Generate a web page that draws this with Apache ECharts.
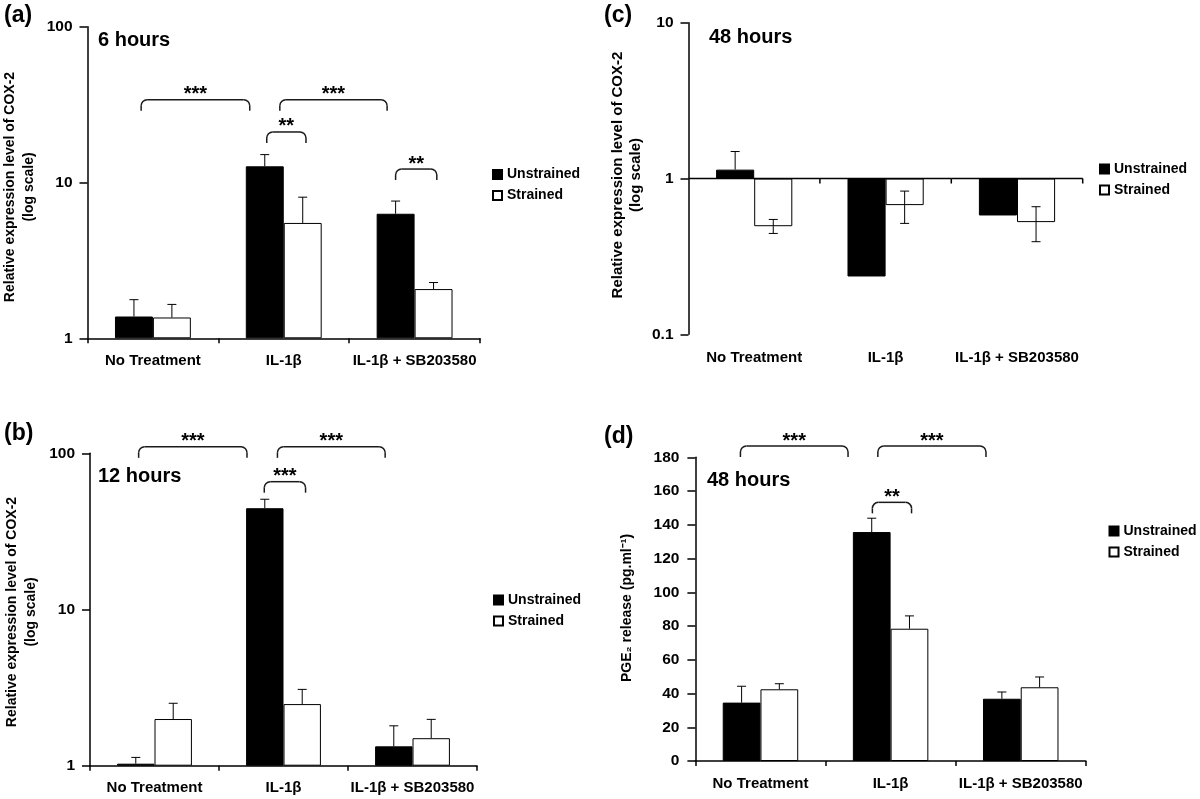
<!DOCTYPE html>
<html>
<head>
<meta charset="utf-8">
<script src="https://cdn.jsdelivr.net/npm/echarts@6/dist/echarts.min.js"></script>
<style>
html,body{margin:0;padding:0;background:#fff;}
#chart{width:1200px;height:799px;}
</style>
</head>
<body>
<div id="chart"></div>
<script>
// ---------- DATA ----------
const categories = ['No Treatment', 'IL-1β', 'IL-1β + SB203580'];
const seriesNames = ['Unstrained', 'Strained'];

// (a) COX-2, 6 hours (log scale)
const a_unstrained = [1.38, 12.7, 6.3];
const a_strained = [1.36, 5.5, 2.07];
const a_unstrainedErrHigh = [1.77, 15.1, 7.6];
const a_strainedErrHigh = [1.65, 8.05, 2.28];

// (b) COX-2, 12 hours (log scale)
const b_unstrained = [1.03, 44.5, 1.33];
const b_strained = [1.99, 2.48, 1.50];
const b_unstrainedErrHigh = [1.13, 50.8, 1.80];
const b_strainedErrHigh = [2.51, 3.08, 1.98];

// (c) COX-2, 48 hours (log scale)
const c_unstrained = [1.14, 0.235, 0.579];
const c_strained = [0.494, 0.675, 0.525];
const c_unstrainedErrHigh = [1.49, null, null];
const c_unstrainedErrLow = [null, null, null];
const c_strainedErrHigh = [0.546, 0.83, 0.659];
const c_strainedErrLow = [0.444, 0.515, 0.393];

// (d) PGE2 release, 48 hours
const d_unstrained = [34.6, 135.7, 36.9];
const d_strained = [42.5, 78.4, 43.7];
const d_unstrainedErrHigh = [44.3, 143.9, 40.9];
const d_strainedErrHigh = [45.8, 86.0, 49.8];

// significance annotations: [fromCategory, fromShift, toCategory, toShift, level, stars]
const a_brackets = [[0, -0.09, 1, -0.26, 34, '***'], [1, -0.03, 2, -0.21, 34, '***'], [1, -0.13, 1, 0.17, 21.1, '**'], [2, -0.145, 2, 0.17, 12.2, '**']];
const b_brackets = [[0, -0.123, 1, -0.283, 110, '***'], [1, -0.047, 2, -0.212, 110, '***'], [1, -0.149, 1, 0.171, 65.8, '***']];
const d_brackets = [[0, -0.154, 1, -0.327, 186.7, '***'], [1, -0.098, 2, -0.267, 186.7, '***'], [1, -0.14, 1, 0.161, 153.3, '**']];

// ---------- STYLE ----------
const FONT = '"Liberation Sans", Arial, Helvetica, sans-serif';
const CAT_GAP = 0.42;

const chart = echarts.init(document.getElementById('chart'), null, {renderer: 'canvas'});

const grids = [
  {left: 87.5, top: 26.7, width: 392.5, height: 311.6},   // a
  {left: 90, top: 453.3, width: 387, height: 312.4},      // b
  {left: 688.5, top: 22.7, width: 394.2, height: 311.6},  // c
  {left: 695.4, top: 457.3, width: 390.4, height: 303.7}  // d
].map(g => Object.assign({outerBoundsMode: 'none', containLabel: false}, g));

function xAxisFor(gi, showLine, margin) {
  return {
    type: 'category', gridIndex: gi, data: categories,
    axisLine: {show: showLine, lineStyle: {color: '#000', width: 1.5}},
    axisTick: {show: showLine, alignWithLabel: false, interval: 0, length: 5, lineStyle: {color: '#000', width: 1.5}},
    axisLabel: {show: true, interval: 0, margin: margin, color: '#000', fontFamily: FONT, fontWeight: 'bold', fontSize: 15},
    splitLine: {show: false}
  };
}
function yAxisFor(gi, extra, margin) {
  return Object.assign({
    gridIndex: gi,
    axisLine: {show: true, lineStyle: {color: '#000', width: 1.5}},
    axisTick: {show: true, inside: false, length: 8, lineStyle: {color: '#000', width: 1.5}},
    minorTick: {show: false},
    axisLabel: {show: true, margin: margin, color: '#000', fontFamily: FONT, fontWeight: 'bold', fontSize: 15.5},
    splitLine: {show: false}
  }, extra);
}

function barSeries(name, gi, data, fill) {
  return {
    type: 'bar', name: name, xAxisIndex: gi, yAxisIndex: gi, data: data,
    barGap: '0%', barCategoryGap: (CAT_GAP * 100) + '%',
    itemStyle: {color: fill, borderColor: '#000', borderWidth: 1},
    emphasis: {disabled: true}, silent: true
  };
}

function errorSeries(gi, side, values, high, low) {
  const data = values.map((v, i) => [i, v,
    (high && high[i] != null) ? high[i] : v,
    (low && low[i] != null) ? low[i] : v]);
  return {
    type: 'custom', name: 'err' + gi + side, xAxisIndex: gi, yAxisIndex: gi, silent: true, z: 5,
    encode: {x: 0, y: 1},
    data: data,
    renderItem: function (params, api) {
      const i = api.value(0), v = api.value(1), hi = api.value(2), lo = api.value(3);
      const band = api.size([1, 0])[0];
      const bw = band * (1 - CAT_GAP) / 2;
      const x = api.coord([i, v])[0] + side * bw / 2;
      const yv = api.coord([i, v])[1];
      const st = {stroke: '#000', lineWidth: 1};
      const cap = 4.5;
      const ch = [];
      if (hi > v) {
        const yh = api.coord([i, hi])[1];
        ch.push({type: 'line', shape: {x1: x, y1: yv, x2: x, y2: yh}, style: st});
        ch.push({type: 'line', shape: {x1: x - cap, y1: yh, x2: x + cap, y2: yh}, style: st});
      }
      if (lo < v) {
        const yl = api.coord([i, lo])[1];
        ch.push({type: 'line', shape: {x1: x, y1: yv, x2: x, y2: yl}, style: st});
        ch.push({type: 'line', shape: {x1: x - cap, y1: yl, x2: x + cap, y2: yl}, style: st});
      }
      return {type: 'group', children: ch};
    }
  };
}

function bracketSeries(gi, brackets) {
  return {
    type: 'custom', name: 'sig' + gi, xAxisIndex: gi, yAxisIndex: gi, silent: true, z: 6, clip: false,
    encode: {x: 0, y: 4},
    data: brackets.map(b => [b[0], b[1], b[2], b[3], b[4]]),
    renderItem: function (params, api) {
      const b = brackets[params.dataIndex];
      const band = api.size([1, 0])[0];
      const p0 = api.coord([api.value(0), api.value(4)]);
      const p1 = api.coord([api.value(2), api.value(4)]);
      const x0 = p0[0] + api.value(1) * band;
      const x1 = p1[0] + api.value(3) * band;
      const y = p0[1];
      const r = 6, drop = 11;
      const st = {stroke: '#1a1a1a', lineWidth: 1.5, fill: null};
      return {type: 'group', children: [
        {type: 'line', shape: {x1: x0, y1: y + drop, x2: x0, y2: y + r}, style: st},
        {type: 'arc', shape: {cx: x0 + r, cy: y + r, r: r, startAngle: Math.PI, endAngle: 1.5 * Math.PI, clockwise: true}, style: st},
        {type: 'line', shape: {x1: x0 + r, y1: y, x2: x1 - r, y2: y}, style: st},
        {type: 'arc', shape: {cx: x1 - r, cy: y + r, r: r, startAngle: 1.5 * Math.PI, endAngle: 2 * Math.PI, clockwise: true}, style: st},
        {type: 'line', shape: {x1: x1, y1: y + r, x2: x1, y2: y + drop}, style: st},
        {type: 'text', x: (x0 + x1) / 2, y: y + 5, style: {text: b[5], font: 'bold 20px ' + FONT, fill: '#000', align: 'center', verticalAlign: 'bottom'}}
      ]};
    }
  };
}

// horizontal reference line at value 1 for panel (c), with category boundary ticks
function baselineSeries(gi) {
  return {
    type: 'custom', name: 'base' + gi, xAxisIndex: gi, yAxisIndex: gi, silent: true, z: 7, clip: false,
    encode: {x: 0, y: 1},
    data: categories.map((c, i) => [i, 1]),
    renderItem: function (params, api) {
      const band = api.size([1, 0])[0];
      const p = api.coord([api.value(0), api.value(1)]);
      const st = {stroke: '#000', lineWidth: 1.5};
      return {type: 'group', children: [
        {type: 'line', shape: {x1: p[0] - band / 2, y1: p[1], x2: p[0] + band / 2, y2: p[1]}, style: st},
        {type: 'line', shape: {x1: p[0] + band / 2, y1: p[1], x2: p[0] + band / 2, y2: p[1] + 5}, style: st}
      ]};
    }
  };
}

function legendFor(left, top) {
  return {
    data: seriesNames, orient: 'vertical', left: left, top: top, padding: 0,
    itemWidth: 9, itemHeight: 9, itemGap: 7, icon: 'rect', selectedMode: false,
    textStyle: {color: '#000', fontFamily: FONT, fontWeight: 'bold', fontSize: 14}
  };
}

function txt(x, y, text, size) {
  return {
    type: 'text', x: x, y: y, silent: true,
    style: {text: text, font: 'bold ' + size + 'px ' + FONT, fill: '#000', align: 'left', verticalAlign: 'middle'}
  };
}
function vtxt(cx, cy, text, size, lh) {
  return {
    type: 'text', x: cx, y: cy, rotation: Math.PI / 2, silent: true,
    style: {text: text, font: 'bold ' + size + 'px ' + FONT, fill: '#000', align: 'center', verticalAlign: 'middle', lineHeight: lh}
  };
}

const option = {
  animation: false,
  backgroundColor: '#fff',
  grid: grids,
  xAxis: [xAxisFor(0, true, 15), xAxisFor(1, true, 15), xAxisFor(2, false, 16), xAxisFor(3, true, 15)],
  yAxis: [
    yAxisFor(0, {type: 'log', logBase: 10, min: 1, max: 100}, 15),
    yAxisFor(1, {type: 'log', logBase: 10, min: 1, max: 100}, 15),
    yAxisFor(2, {type: 'log', logBase: 10, min: 0.1, max: 10}, 15),
    yAxisFor(3, {type: 'value', min: 0, max: 180, interval: 20}, 16)
  ],
  legend: [legendFor(492, 167.5), legendFor(493, 593), legendFor(1099, 162), legendFor(1108.5, 524)],
  series: [
    barSeries('Unstrained', 0, a_unstrained, '#000'),
    barSeries('Strained', 0, a_strained, '#fff'),
    errorSeries(0, -1, a_unstrained, a_unstrainedErrHigh, null),
    errorSeries(0, 1, a_strained, a_strainedErrHigh, null),
    bracketSeries(0, a_brackets),

    barSeries('Unstrained', 1, b_unstrained, '#000'),
    barSeries('Strained', 1, b_strained, '#fff'),
    errorSeries(1, -1, b_unstrained, b_unstrainedErrHigh, null),
    errorSeries(1, 1, b_strained, b_strainedErrHigh, null),
    bracketSeries(1, b_brackets),

    barSeries('Unstrained', 2, c_unstrained, '#000'),
    barSeries('Strained', 2, c_strained, '#fff'),
    errorSeries(2, -1, c_unstrained, c_unstrainedErrHigh, c_unstrainedErrLow),
    errorSeries(2, 1, c_strained, c_strainedErrHigh, c_strainedErrLow),
    baselineSeries(2),

    barSeries('Unstrained', 3, d_unstrained, '#000'),
    barSeries('Strained', 3, d_strained, '#fff'),
    errorSeries(3, -1, d_unstrained, d_unstrainedErrHigh, null),
    errorSeries(3, 1, d_strained, d_strainedErrHigh, null),
    bracketSeries(3, d_brackets)
  ],
  graphic: [
    txt(4, 16, '(a)', 23),
    txt(4, 434, '(b)', 23),
    txt(604, 16, '(c)', 23),
    txt(604, 437, '(d)', 23),
    txt(98, 40, '6 hours', 20),
    txt(98, 476, '12 hours', 20),
    txt(709, 37, '48 hours', 20),
    txt(707, 480, '48 hours', 20),
    vtxt(19.5, 187, 'Relative expression level of COX-2\n(log scale)', 14, 19),
    vtxt(22, 612, 'Relative expression level of COX-2\n(log scale)', 14, 19),
    vtxt(627, 175, 'Relative expression level of COX-2\n(log scale)', 15, 18.5),
    vtxt(627, 608, 'PGE₂ release (pg.ml⁻¹)', 14, 16)
  ]
};
chart.setOption(option);
</script>
</body>
</html>
